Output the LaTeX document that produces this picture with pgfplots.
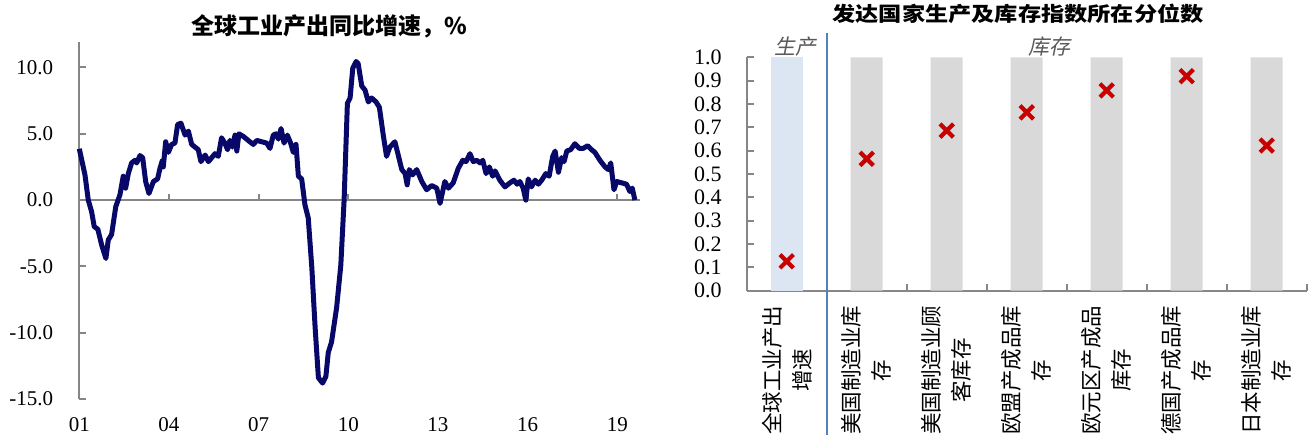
\documentclass[border=0pt]{standalone}
\usepackage{fontspec}
\setmainfont{Liberation Serif}
\newfontfamily\cjk{Noto Sans CJK SC}
\newfontfamily\cjkit{Noto Sans CJK SC}[FakeSlant=0.2]
\usepackage{pgfplots}
\pgfplotsset{compat=1.18}
\definecolor{navy}{RGB}{8,8,104}
\definecolor{axgray}{RGB}{134,134,134}
\definecolor{barblue}{RGB}{220,230,242}
\definecolor{bargray}{RGB}{217,217,217}
\definecolor{xred}{RGB}{200,0,0}
\definecolor{sepblue}{RGB}{79,129,189}
\definecolor{lblgray}{RGB}{89,89,89}
\begin{document}
\begin{tikzpicture}
\path[use as bounding box] (0,0) rectangle (1312bp,441bp);
\node[font=\cjk\bfseries\fontsize{23bp}{25bp}\selectfont] at (329bp,414.5bp) {全球工业产出同比增速，\%};
\node[font=\cjk\bfseries\fontsize{20bp}{22bp}\selectfont, xscale=1.16] at (1018bp,427.5bp) {发达国家生产及库存指数所在分位数};
% x = years since Jan 2001
\begin{axis}[
  anchor=south west, at={(79.3bp,42bp)},
  width=560.7bp, height=356.7bp, scale only axis,
  xmin=0, xmax=18.76, ymin=-15, ymax=11.9,
  axis lines*=left, axis line style={axgray, line width=2bp, -},
  x axis line style={draw=none},
  xtick={0,3,6,9,12,15,18},
  xticklabels={01,04,07,10,13,16,19},
  ytick={-15,-10,-5,0,5,10},
  tick align=inside, ytick pos=left, major tick length=7bp,
  tick style={axgray, line width=2bp},
  xtick style={draw=none},
  yticklabel={\pgfmathprintnumber[fixed,fixed zerofill,precision=1,assume math mode=true]{\tick}},
  yticklabel style={inner sep=0pt, font=\fontsize{21bp}{24bp}\selectfont},
  xticklabel style={inner sep=0pt, font=\fontsize{21bp}{24bp}\selectfont},
  yticklabel shift=26bp, xticklabel shift=18bp,
  clip=false,
]
\draw[axgray, line width=2bp] (axis cs:0,0) -- (axis cs:18.76,0);
\pgfplotsinvokeforeach{3,6,9,12,15,18}{
  \draw[axgray, line width=2bp] (axis cs:#1,0) -- (axis cs:#1,0.45);
}
\addplot[navy, line width=5bp, line join=round, mark=none] coordinates {
(0.00,3.87) (0.19,1.9) (0.30,0.0) (0.41,-0.86) (0.50,-2.0) (0.62,-2.2)
(0.75,-3.4) (0.89,-4.4) (0.97,-3.0) (1.08,-2.6) (1.22,-0.5) (1.36,0.4)
(1.47,1.8) (1.55,0.9) (1.64,2.0) (1.75,2.8) (1.86,3.0) (1.92,2.8)
(2.03,3.36) (2.12,3.2) (2.22,1.4) (2.33,0.5) (2.48,1.4) (2.62,1.6)
(2.70,2.4) (2.78,3.0) (2.81,2.5) (2.89,4.4) (2.98,3.6) (3.09,4.2)
(3.20,4.3) (3.29,5.7) (3.40,5.8) (3.54,4.9) (3.65,5.2) (3.76,4.2)
(3.87,4.0) (3.98,3.8) (4.07,2.9) (4.21,3.4) (4.32,2.9) (4.43,3.2)
(4.54,3.5) (4.65,3.3) (4.76,4.7) (4.87,4.3) (4.96,3.8) (5.04,4.5)
(5.12,4.0) (5.21,4.9) (5.27,3.7) (5.34,5.0) (5.49,4.8) (5.65,4.5)
(5.82,4.2) (5.94,4.5) (6.10,4.4) (6.27,4.3) (6.38,3.9) (6.49,4.9)
(6.58,5.0) (6.66,4.6) (6.75,5.4) (6.85,4.3) (6.96,4.9) (7.07,4.3)
(7.16,3.6) (7.25,4.2) (7.33,1.8) (7.44,1.6) (7.55,-0.36) (7.66,-1.35)
(7.78,-5.1) (7.89,-9.6) (8.00,-13.4) (8.14,-13.8) (8.25,-13.3) (8.33,-11.5)
(8.44,-10.7) (8.61,-8.1) (8.75,-4.9) (8.86,0.0) (8.97,7.3) (9.06,7.7)
(9.15,9.95) (9.26,10.45) (9.33,10.3) (9.45,8.6) (9.56,8.3) (9.67,7.4)
(9.78,7.7) (9.93,7.4) (10.04,7.0) (10.17,4.9) (10.28,3.3) (10.39,4.0)
(10.56,4.4) (10.67,3.4) (10.79,2.3) (10.90,2.0) (10.97,1.15) (11.04,2.3)
(11.15,1.9) (11.29,2.3) (11.46,1.4) (11.62,0.78) (11.79,1.1) (11.96,0.9)
(12.07,-0.25) (12.23,1.4) (12.35,0.9) (12.51,1.3) (12.68,2.4) (12.83,3.0)
(12.94,2.9) (13.07,3.5) (13.18,2.9) (13.30,3.0) (13.41,2.8) (13.50,3.0)
(13.61,2.0) (13.72,2.5) (13.83,1.8) (13.91,2.2) (14.07,1.5) (14.24,1.0)
(14.41,1.3) (14.54,1.5) (14.65,1.2) (14.74,1.4) (14.85,0.9) (14.94,0.0)
(15.02,1.6) (15.13,1.0) (15.25,1.5) (15.36,1.2) (15.47,1.5) (15.61,2.0)
(15.72,1.8) (15.84,3.3) (15.92,3.7) (16.03,2.1) (16.14,3.2) (16.22,2.9)
(16.31,3.7) (16.44,3.8) (16.58,4.25) (16.73,3.9) (16.86,3.9) (17.01,4.1)
(17.14,3.8) (17.25,3.6) (17.42,3.0) (17.59,2.5) (17.70,2.3) (17.78,2.8)
(17.89,0.78) (17.98,1.4) (18.15,1.3) (18.31,1.2) (18.42,0.65) (18.50,0.9)
(18.59,0.0)
};
\end{axis}
\begin{axis}[
  anchor=south west, at={(746.7bp,150.3bp)},
  width=560bp, height=233.4bp, scale only axis,
  xmin=-0.5, xmax=6.5, ymin=0, ymax=1,
  clip=false,
  axis lines*=left, axis line style={axgray, line width=2bp, -},
  xtick={0,1,2,3,4,5,6},
  xticklabels={{全球工业产出\\增速},{美国制造业库\\存},{美国制造业顾\\客库存},{欧盟产成品库\\存},{欧元区产成品\\库存},{德国产成品库\\存},{日本制造业库\\存}},
  ytick={0,0.1,0.2,0.3,0.4,0.5,0.6,0.7,0.8,0.9,1.0},
  tick align=inside, ytick pos=left, major tick length=7bp,
  tick style={axgray, line width=2bp},
  xtick style={draw=none},
  yticklabel={\pgfmathprintnumber[fixed,fixed zerofill,precision=1,assume math mode=true]{\tick}},
  yticklabel style={inner sep=0pt, font=\fontsize{22bp}{24bp}\selectfont},
  yticklabel shift=25bp,
  xticklabel style={rotate=90, anchor=east, align=center, inner sep=0pt, font=\cjk\fontsize{21.5bp}{30bp}\selectfont},
  xticklabel shift=15bp,
]
\addplot[ybar, bar width=32bp, bar shift=0pt, fill=barblue, draw=none] coordinates {(0,1)};
\addplot[ybar, bar width=32bp, bar shift=0pt, fill=bargray, draw=none] coordinates {(1,1) (2,1) (3,1) (4,1) (5,1) (6,1)};
\addplot[only marks, mark=x, mark size=9.5bp, mark options={line width=4.2bp, draw=xred}] coordinates {
(0,0.126) (1,0.565) (2,0.686) (3,0.764) (4,0.858) (5,0.919) (6,0.622)};
\pgfplotsinvokeforeach{0.5,1.5,2.5,3.5,4.5,5.5,6.5}{
  \draw[axgray, line width=2bp] (axis cs:#1,0) -- (axis cs:#1,0.03);
}
\draw[sepblue, line width=2bp] (axis cs:0.5,-0.618) -- (axis cs:0.5,1.104);
\node[font=\cjkit\fontsize{21bp}{24bp}\selectfont, text=lblgray] at (axis cs:0.104,1.048) {生产};
\node[font=\cjkit\fontsize{21bp}{24bp}\selectfont, text=lblgray] at (axis cs:3.28,1.048) {库存};
\end{axis}
\end{tikzpicture}
\end{document}
